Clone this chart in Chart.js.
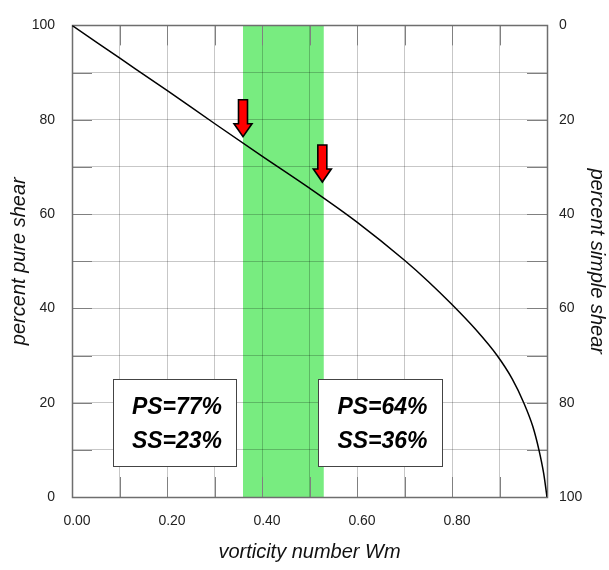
<!DOCTYPE html>
<html>
<head>
<meta charset="utf-8">
<script src="https://cdn.jsdelivr.net/npm/chart.js@4.4.0/dist/chart.umd.min.js"></script>
<style>
html, body { margin:0; padding:0; background:#fff; }
#caja { width:609px; height:570px; position:relative; }
</style>
</head>
<body>
<div id="caja"><canvas id="grafico"></canvas></div>
<script>
// curva: numero de vorticidad Wm vs % cizalla pura
const vorticidad = [0, 0.1, 0.2, 0.3, 0.4, 0.5, 0.6, 0.7, 0.75, 0.8, 0.85, 0.895, 0.927, 0.951, 0.970, 0.983, 0.993, 1.0];
const cizallaPura = [100, 93.1, 86.2, 79.2, 72.3, 65.5, 58.3, 50.2, 45.7, 40.8, 35.5, 30.0, 25.0, 20.0, 15.0, 10.0, 5.0, 0];

// banda verde (rango de Wm)
const bandaWm = [0.36, 0.53];

// flechas rojas (punta en Wm, %PS)
const flechasWm = [0.36, 0.527];
const flechasPS = [76.4, 66.8];

// textos de las cajas
const textosCajas = [['PS=77%', 'SS=23%'], ['PS=64%', 'SS=36%']];

// etiquetas de los ejes
const etiquetasX = ['0.00', '0.20', '0.40', '0.60', '0.80'];
const etiquetasY = ['0', '20', '40', '60', '80', '100'];

const fuente = "'Liberation Sans', Arial, sans-serif";

// posicion de las cajas en coordenadas del grafico
const cajasPos = [
    {x0: 0.087, x1: 0.346, yTop: 25, yBot: 6.6},
    {x0: 0.518, x1: 0.778, yTop: 25, yBot: 6.6}
];

function dibujarFlecha(ctx, x, yPunta) {
    const largo = 37, cabeza = 13, anchoAsta = 4.5, anchoCabeza = 9;
    const yTop = yPunta - largo;
    const yCab = yPunta - cabeza;
    ctx.beginPath();
    ctx.moveTo(x - anchoAsta, yTop);
    ctx.lineTo(x + anchoAsta, yTop);
    ctx.lineTo(x + anchoAsta, yCab);
    ctx.lineTo(x + anchoCabeza, yCab);
    ctx.lineTo(x, yPunta);
    ctx.lineTo(x - anchoCabeza, yCab);
    ctx.lineTo(x - anchoAsta, yCab);
    ctx.closePath();
    ctx.fillStyle = '#ff0000';
    ctx.fill();
    ctx.lineWidth = 1.6;
    ctx.strokeStyle = '#000';
    ctx.lineJoin = 'miter';
    ctx.stroke();
}

const pluginExtras = {
    id: 'extras',
    beforeDraw(chart) {
        const {ctx, chartArea, scales} = chart;
        const x0 = scales.x.getPixelForValue(bandaWm[0]);
        const x1 = scales.x.getPixelForValue(bandaWm[1]);
        ctx.save();
        ctx.fillStyle = '#78ec80';
        ctx.fillRect(x0, chartArea.top, x1 - x0, chartArea.bottom - chartArea.top);
        ctx.restore();
    },
    beforeDatasetsDraw(chart) {
        const {ctx, chartArea: a, scales} = chart;
        ctx.save();
        ctx.strokeStyle = '#808080';
        ctx.lineWidth = 1;
        const largo = 20;
        ctx.beginPath();
        for (let i = 1; i < 10; i++) {
            const px = Math.round(scales.x.getPixelForValue(i / 10)) + 0.5;
            ctx.moveTo(px, a.top); ctx.lineTo(px, a.top + largo);
            ctx.moveTo(px, a.bottom); ctx.lineTo(px, a.bottom - largo);
            const py = Math.round(scales.y.getPixelForValue(i * 10)) + 0.5;
            ctx.moveTo(a.left, py); ctx.lineTo(a.left + largo, py);
            ctx.moveTo(a.right, py); ctx.lineTo(a.right - largo, py);
        }
        ctx.stroke();
        // marco
        ctx.strokeStyle = '#6e6e6e';
        ctx.lineWidth = 1.5;
        ctx.strokeRect(Math.round(a.left) + 0.5, Math.round(a.top) + 0.5,
            Math.round(a.right - a.left), Math.round(a.bottom - a.top));
        ctx.restore();
    },
    afterDatasetsDraw(chart) {
        const {ctx, scales} = chart;
        ctx.save();
        flechasWm.forEach((w, i) => {
            dibujarFlecha(ctx, scales.x.getPixelForValue(w), scales.y.getPixelForValue(flechasPS[i]));
        });
        cajasPos.forEach((c, i) => {
            const x0 = Math.round(scales.x.getPixelForValue(c.x0)) + 0.5;
            const x1 = Math.round(scales.x.getPixelForValue(c.x1)) + 0.5;
            const y0 = Math.round(scales.y.getPixelForValue(c.yTop)) + 0.5;
            const y1 = Math.round(scales.y.getPixelForValue(c.yBot)) + 0.5;
            ctx.fillStyle = '#fff';
            ctx.fillRect(x0, y0, x1 - x0, y1 - y0);
            ctx.strokeStyle = '#444';
            ctx.lineWidth = 1;
            ctx.strokeRect(x0, y0, x1 - x0, y1 - y0);
            ctx.fillStyle = '#000';
            ctx.font = 'italic bold 23px ' + fuente;
            ctx.textAlign = 'center';
            ctx.textBaseline = 'alphabetic';
            const cx = (x0 + x1) / 2 + 2;
            ctx.fillText(textosCajas[i][0], cx, y0 + 34);
            ctx.fillText(textosCajas[i][1], cx, y0 + 68);
        });
        ctx.restore();
    }
};

function etiquetaX(value) {
    const k = Math.round(value * 10);
    return k % 2 === 0 && k / 2 < etiquetasX.length ? etiquetasX[k / 2] : '';
}

function etiquetaY(value) {
    const k = Math.round(value / 10);
    return k % 2 === 0 ? etiquetasY[k / 2] : '';
}

const puntos = vorticidad.map((w, i) => ({x: w, y: cizallaPura[i]}));

new Chart(document.getElementById('grafico').getContext('2d'), {
    type: 'scatter',
    data: {
        datasets: [{
            data: puntos,
            showLine: true,
            borderColor: '#000',
            borderWidth: 1.5,
            pointRadius: 0,
            cubicInterpolationMode: 'monotone',
            fill: false
        }]
    },
    options: {
        responsive: true,
        maintainAspectRatio: false,
        animation: false,
        layout: {padding: {top: 23, left: 0, right: 0, bottom: 0}},
        plugins: {legend: {display: false}, tooltip: {enabled: false}},
        scales: {
            x: {
                type: 'linear', min: 0, max: 1,
                afterFit: s => { s.height = 73; },
                border: {display: false},
                grid: {color: 'rgba(0,0,0,0.22)', drawTicks: false},
                ticks: {stepSize: 0.1, autoSkip: false, maxRotation: 0, padding: 16, labelOffset: 5,
                    color: '#222', font: {family: fuente, size: 14}, callback: etiquetaX},
                title: {display: true, text: 'vorticity number Wm', color: '#111',
                    font: {family: fuente, size: 20, style: 'italic'}, padding: {top: 0, bottom: 6}}
            },
            y: {
                type: 'linear', position: 'left', min: 0, max: 100,
                afterFit: s => { s.width = 72; },
                border: {display: false},
                grid: {color: 'rgba(0,0,0,0.22)', drawTicks: false},
                ticks: {stepSize: 10, autoSkip: false, padding: 17,
                    color: '#222', font: {family: fuente, size: 14}, callback: etiquetaY},
                title: {display: true, text: 'percent pure shear', color: '#111',
                    font: {family: fuente, size: 20, style: 'italic'}, padding: {top: 7, bottom: 0}}
            },
            y2: {
                type: 'linear', position: 'right', min: 0, max: 100, reverse: true,
                afterFit: s => { s.width = 62; },
                border: {display: false},
                grid: {drawOnChartArea: false, drawTicks: false},
                ticks: {stepSize: 10, autoSkip: false, padding: 12,
                    color: '#222', font: {family: fuente, size: 14}, callback: etiquetaY},
                title: {display: true, text: 'percent simple shear', color: '#111',
                    font: {family: fuente, size: 20, style: 'italic'}, padding: {top: 0, bottom: 0}}
            }
        }
    },
    plugins: [pluginExtras]
});
</script>
</body>
</html>
